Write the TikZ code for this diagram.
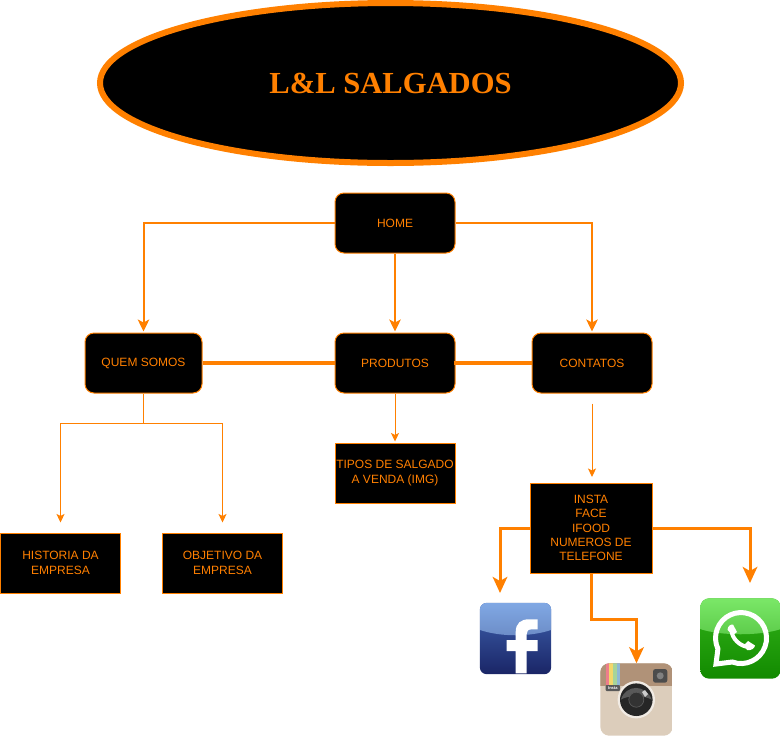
\documentclass[tikz,border=0pt]{standalone}
\usepackage{fontspec}
\setmainfont{Liberation Sans}
\newfontfamily\titlefont{Liberation Serif}
\usetikzlibrary{arrows.meta,shapes.geometric}
\definecolor{laranja}{HTML}{FF8000}
\definecolor{faceclaro}{HTML}{80A8E4}
\definecolor{facemeio}{HTML}{6C8CC6}
\definecolor{facebase}{HTML}{3F63B0}
\definecolor{faceescuro}{HTML}{1A2566}
\definecolor{instabege}{HTML}{DCCDBB}
\definecolor{instamarrom}{HTML}{B09278}
\definecolor{instarosa}{HTML}{EE7E8B}
\definecolor{instaamarelo}{HTML}{F3D76B}
\definecolor{instaverde}{HTML}{A6D49A}
\definecolor{instaazul}{HTML}{8FB8D6}
\definecolor{zapclaro}{HTML}{7BE868}
\definecolor{zapmeio}{HTML}{5CCB4A}
\definecolor{zapbase}{HTML}{33B31A}
\definecolor{zapescuro}{HTML}{128A00}
\tikzset{
    caixa/.style={draw=laranja, fill=black, text=laranja, line width=1pt, inner sep=0pt, minimum width=120pt, minimum height=60pt, align=center, font=\fontsize{12}{14.3}\selectfont},
    caixared/.style={caixa, rounded corners=9pt},
    icone/.style={inner sep=0pt, minimum width=#1, minimum height=#1},
    fino/.style={draw=laranja, line width=1pt, -{Stealth[length=8.5pt,width=8pt,inset=2pt]}},
    medio/.style={draw=laranja, line width=2pt, -{Stealth[length=12pt,width=11.5pt,inset=3pt]}},
    grosso/.style={draw=laranja, line width=3pt, -{Stealth[length=16pt,width=14.5pt,inset=4pt]}},
    barra/.style={draw=laranja, line width=4pt}
}
\begin{document}
\begin{tikzpicture}[x=1pt,y=-1pt]
    \useasboundingbox (0,0) rectangle (781,737);

    \node[ellipse, draw=laranja, fill=black, text=laranja, line width=6pt, inner sep=0pt, minimum width=581pt, minimum height=160pt, font=\titlefont\bfseries\fontsize{30.6}{34}\selectfont] (titulo) at (390.5,83) {L\&L SALGADOS};

    \node[caixared] (home) at (395,223) {HOME};
    \node[caixared, minimum width=117pt] (quem) at (143.5,363) {QUEM SOMOS};
    \node[caixared] (produtos) at (395,363) {PRODUTOS};
    \node[caixared] (contatos) at (592,363) {CONTATOS};
    \node[caixa] (tipos) at (395,473) {TIPOS DE SALGADO\\A VENDA (IMG)};
    \node[caixa] (historia) at (60.5,563) {HISTORIA DA\\EMPRESA};
    \node[caixa] (objetivo) at (222.5,563) {OBJETIVO DA\\EMPRESA};
    \node[caixa, minimum width=122pt, minimum height=90pt] (redes) at (591,528) {INSTA\\FACE\\IFOOD\\NUMEROS DE\\TELEFONE};

    \node[icone=71pt] (face) at (515.5,638.5) {};
    \node[icone=72pt] (insta) at (636.5,699.5) {};
    \node[icone=80pt] (whats) at (740.5,638.5) {};

    \coordinate (fork) at (143.5,423);
    \coordinate (facetip) at (500,593);
    \coordinate (whatstip) at (750,583);
    \coordinate (instaturn) at (591.5,619);

    \draw[medio] (home.west) -| ([yshift=1pt]quem.north);
    \draw[medio] (home.south) -- ([yshift=1pt]produtos.north);
    \draw[medio] (home.east) -| ([yshift=1pt]contatos.north);

    \draw[barra] (quem.east) -- (produtos.west);
    \draw[barra] ([xshift=-2pt]produtos.east) -- (contatos.west);

    \draw[fino] (quem.south) -- (fork) -| ([yshift=10pt]historia.north);
    \draw[fino] (fork) -| ([yshift=10pt]objetivo.north);
    \draw[fino] (produtos.south) -- ([yshift=1pt]tipos.north);
    \draw[fino] ([yshift=-10pt]contatos.south) -- ([xshift=1pt,yshift=5.5pt]redes.north);

    \draw[grosso] (redes.west) -| (facetip);
    \draw[grosso] (redes.east) -| (whatstip);
    \draw[grosso] (instaturn |- redes.south) -- (instaturn) -| (insta.north);

    \begin{scope}
        \clip[rounded corners=7pt] (face.north west) rectangle (face.south east);
        \shade[top color=facebase, bottom color=faceescuro] (face.north west) rectangle (face.south east);
        \shade[top color=faceclaro, bottom color=facemeio] (480,603) -- (551,603) -- (551,630) .. controls (530,637) and (501,637) .. (480,630) -- cycle;
    \end{scope}
    \fill[white] (515.7,673.3) -- (515.7,651) -- (506.7,651) -- (506.7,640) -- (515.7,640) -- (515.7,632)
        .. controls (515.7,623) and (521,619.3) .. (529,619.3) -- (537.7,619.3) -- (537.7,629.3) -- (532,629.3)
        .. controls (528,629.3) and (526.7,631) .. (526.7,634) -- (526.7,640) -- (537.7,640) -- (537.7,651) -- (526.7,651) -- (526.7,673.3) -- cycle;

    \begin{scope}
        \clip[rounded corners=9pt] (insta.north west) rectangle (insta.south east);
        \fill[instabege] (insta.north west) rectangle (insta.south east);
        \fill[instamarrom] (600,663) rectangle (673,686);
        \fill[instarosa] (605.7,663) rectangle (609.3,685);
        \fill[instaamarelo] (609.3,663) rectangle (612.9,685);
        \fill[instaverde] (612.9,663) rectangle (616.5,685);
        \fill[instaazul] (616.5,663) rectangle (620,685);
    \end{scope}
    \fill[black!65, rounded corners=1pt] (605.7,685) rectangle (620,691);
    \node[text=white, inner sep=0pt, font=\bfseries\fontsize{4}{4}\selectfont] (instatexto) at (612.8,688) {Insta};
    \fill[black!70, rounded corners=2.5pt] (653,669) rectangle (667.3,682.7);
    \fill[black!50] (660.2,675.8) circle (3.5);
    \fill[instabege!40] (636.3,699.7) circle (18.7);
    \fill[black!85] (636.3,699.7) circle (16.3);
    \fill[black!65] (620.8,699.7) .. controls (626,684) and (646,684) .. (651.8,699.7) .. controls (644,695) and (628,695) .. (620.8,699.7) -- cycle;
    \draw[fill=black!80, draw=black!65, line width=0.7pt] (636.3,699.7) circle (7.5);
    \fill[black!20] (642,692) -- (645,690) -- (648,694) -- (645,697) -- cycle;

    \begin{scope}
        \clip[rounded corners=9pt] (whats.north west) rectangle (whats.south east);
        \shade[top color=zapbase, bottom color=zapescuro] (whats.north west) rectangle (whats.south east);
        \shade[top color=zapclaro, bottom color=zapmeio] (700,598) -- (781,598) -- (781,629) .. controls (760,636) and (721,636) .. (700,629) -- cycle;
    \end{scope}
    \draw[white, line width=5pt, line join=miter] (732.3,662) arc (110:-205:25.5) -- (716,664) -- cycle;
    \draw[white, line width=4pt, line cap=round] (731.5,630) .. controls (731.5,638) and (740,647) .. (749.5,647);
    \fill[white] (727.5,630) .. controls (727.5,626) and (731,624) .. (733,624.5) -- (737,632) -- (733,635) -- cycle;
    \fill[white] (747,650) .. controls (751,651) and (755,648) .. (755,645.5) -- (748,641) -- (744,645) -- cycle;
\end{tikzpicture}
\end{document}
